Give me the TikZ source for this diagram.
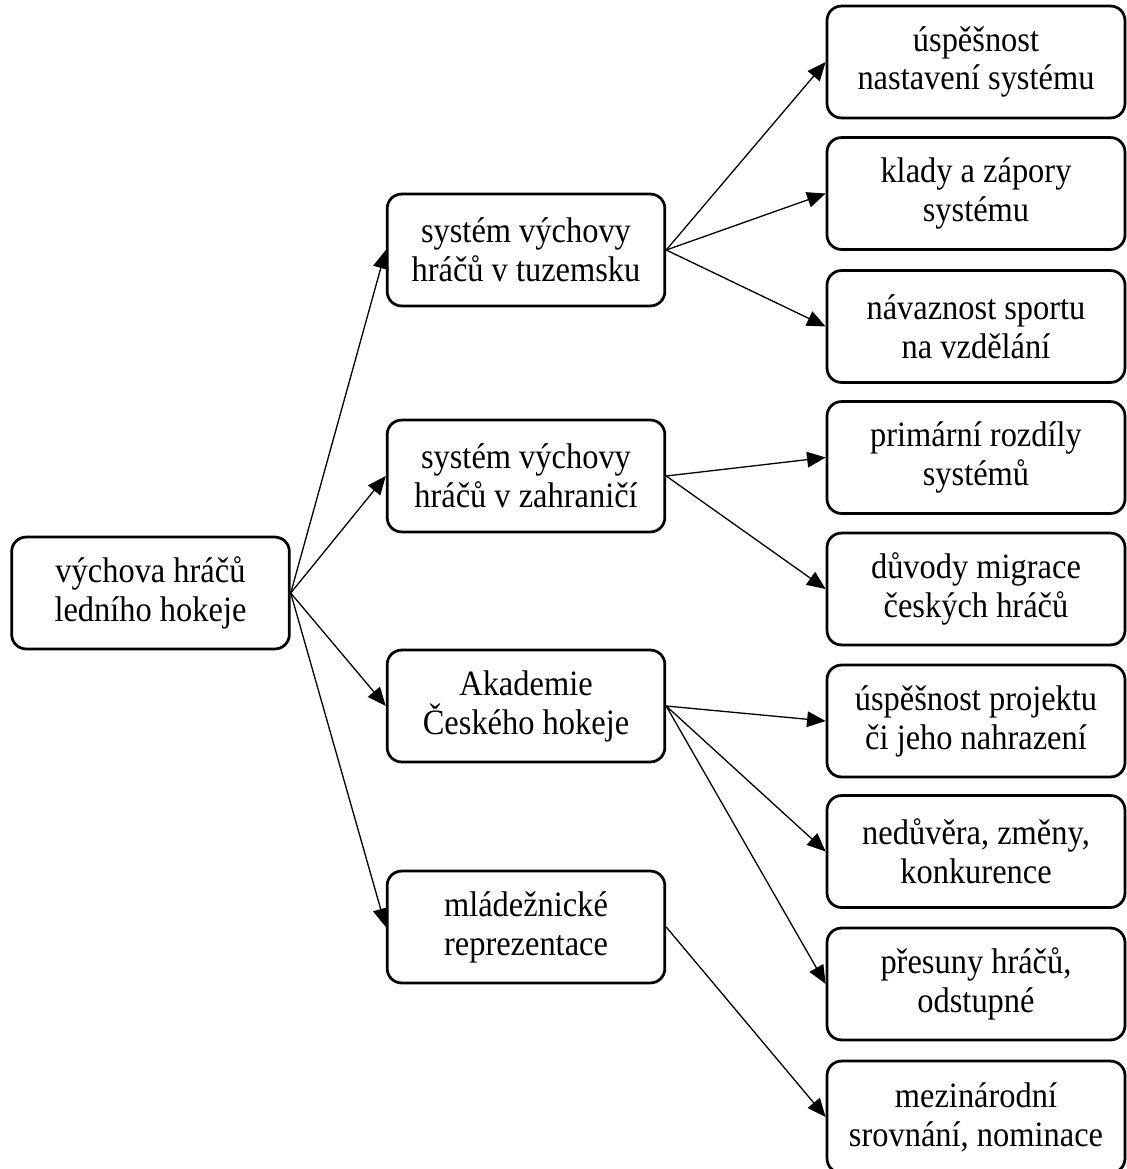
\documentclass[tikz,border=0pt]{standalone}
\usepackage{fontspec}
\setmainfont{Liberation Serif}[FakeStretch=0.91]
\usepackage{xcolor}
\usetikzlibrary{arrows.meta,positioning}
\definecolor{Ink}{HTML}{000000}
\tikzset{
  box/.style={draw=Ink,fill=white,rounded corners=5pt,line width=0.95pt,minimum width=95.8pt,minimum height=38.6pt,align=center,font=\fontsize{12.3}{13.4}\selectfont,text=Ink,inner sep=2pt},
  leaf/.style={box,minimum width=102.8pt},
  arr/.style={-{Triangle[length=6.4pt,width=5.4pt]},draw=Ink,line width=0.45pt}
}
\begin{document}
\begin{tikzpicture}[x=0.345pt,y=-0.345pt]
  \useasboundingbox[fill=white] (0,0) rectangle (1127,1169);
  \node[box] (root) at (150.5,593) {výchova hráčů\\ledního hokeje};
  \node[box] (tuz) at (526,250) {systém výchovy\\hráčů v tuzemsku};
  \node[box] (zahr) at (526,476) {systém výchovy\\hráčů v zahraničí};
  \node[box] (akad) at (526,706) {Akademie\\Českého hokeje};
  \node[box] (mlad) at (526,927) {mládežnické\\reprezentace};
  \node[leaf] (uspech) at (976,62) {úspěšnost\\nastavení systému};
  \node[leaf] (klady) at (976,193.5) {klady a zápory\\systému};
  \node[leaf] (navaz) at (976,326.5) {návaznost sportu\\na vzdělání};
  \node[leaf] (rozdil) at (976,457.5) {primární rozdíly\\systémů};
  \node[leaf] (migr) at (976,589) {důvody migrace\\českých hráčů};
  \node[leaf] (projekt) at (976,721) {úspěšnost projektu\\či jeho nahrazení};
  \node[leaf] (neduv) at (976,851.5) {nedůvěra, změny,\\konkurence};
  \node[leaf] (presun) at (976,984) {přesuny hráčů,\\odstupné};
  \node[leaf] (mezin) at (976,1117) {mezinárodní\\srovnání, nominace};
  % root to second level
  \draw[arr] (root.east) -- (tuz.west);
  \draw[arr] (root.east) -- (zahr.west);
  \draw[arr] (root.east) -- (akad.west);
  \draw[arr] (root.east) -- (mlad.west);
  % second level to leaves
  \draw[arr] (tuz.east) -- (uspech.west);
  \draw[arr] (tuz.east) -- (klady.west);
  \draw[arr] (tuz.east) -- (navaz.west);
  \draw[arr] (zahr.east) -- (rozdil.west);
  \draw[arr] (zahr.east) -- (migr.west);
  \draw[arr] (akad.east) -- (projekt.west);
  \draw[arr] (akad.east) -- (neduv.west);
  \draw[arr] (akad.east) -- (presun.west);
  \draw[arr] (mlad.east) -- (mezin.west);
\end{tikzpicture}
\end{document}
